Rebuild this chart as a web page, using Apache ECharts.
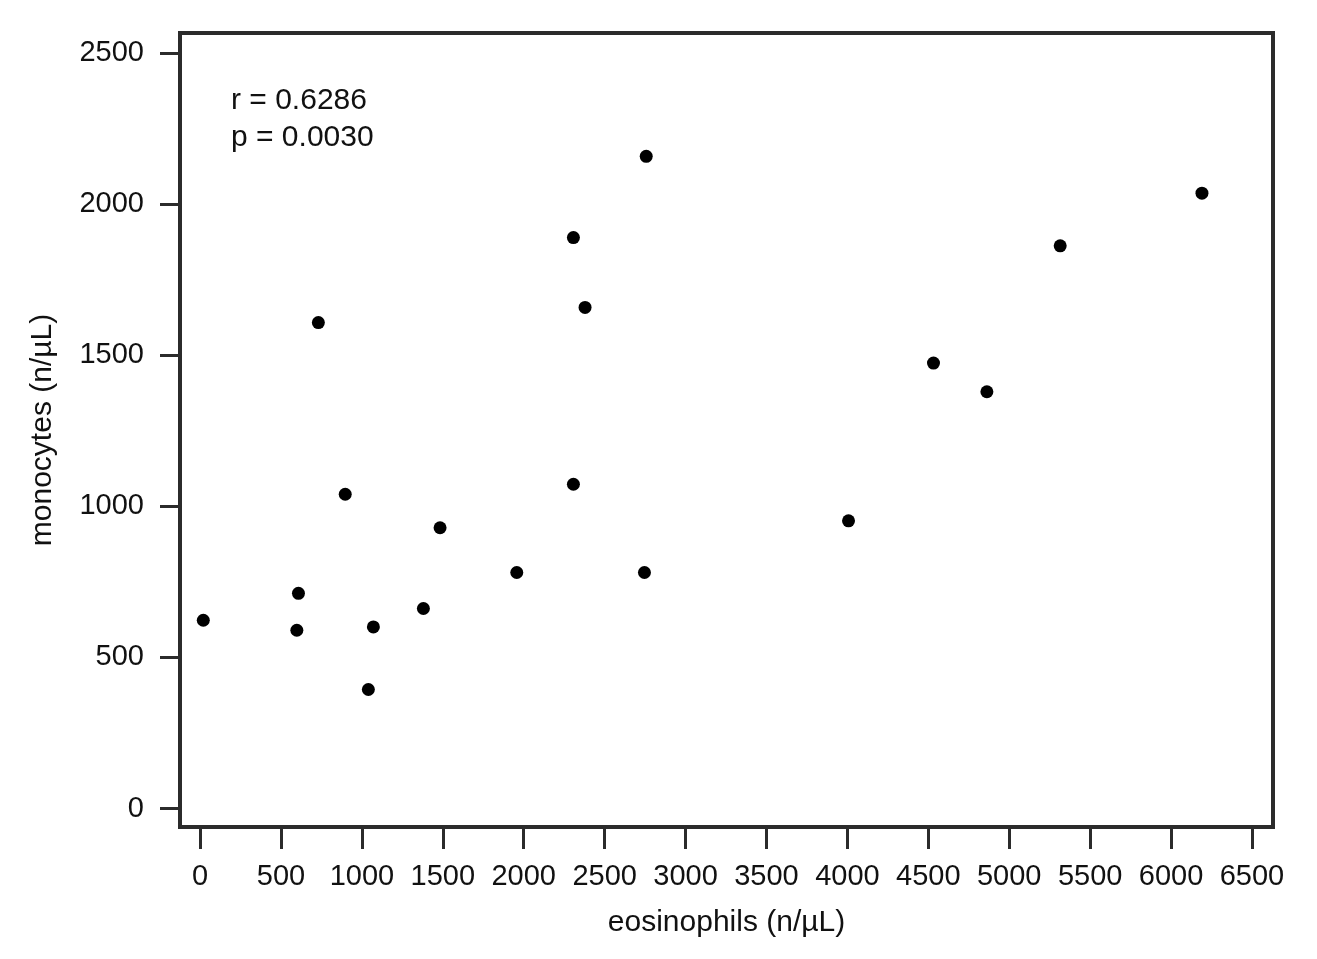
<!DOCTYPE html>
<html lang="en" style="height: 100%">
<head>
    <meta charset="utf-8">
    <script type="text/javascript" src="https://cdn.jsdelivr.net/npm/echarts@6/dist/echarts.min.js"></script>
</head>
<body style="height: 100%; margin: 0; background: #fff">
    <div id="chart" style="height: 959px; width: 1317px"></div>

    <script type="text/javascript">
        // eosinophils (n/µL) vs monocytes (n/µL)
        var eosinophils = [20, 598, 608, 731, 897, 1040, 1071, 1380, 1483, 1957,
                           2307, 2307, 2379, 2757, 2746, 4007, 4532, 4862, 5315, 6191];
        var monocytes   = [623, 590, 712, 1608, 1040, 394, 601, 662, 929, 781,
                           1889, 1073, 1658, 2158, 781, 952, 1474, 1379, 1862, 2036];

        var xTicks = [0, 500, 1000, 1500, 2000, 2500, 3000, 3500, 4000, 4500, 5000, 5500, 6000, 6500];
        var yTicks = [0, 500, 1000, 1500, 2000, 2500];

        var statsText = ['r = 0.6286', 'p = 0.0030'];

        var font = "'Liberation Sans', Arial, sans-serif";
        var ink = '#2b2b2b';
        var textInk = '#111';

        var points = eosinophils.map(function (x, i) {
            return [x, monocytes[i]];
        });

        // plain numbers, no thousands separator
        function plain(v) { return String(v); }

        var chart = echarts.init(document.getElementById('chart'));
        chart.setOption({
            animation: false,
            backgroundColor: '#fff',
            grid: {
                left: 180, right: 44, top: 33, bottom: 132,
                show: true,
                borderColor: ink,
                borderWidth: 4
            },
            xAxis: {
                type: 'value',
                min: -124,
                max: 6630,
                name: 'eosinophils (n/\u00b5L)',
                nameLocation: 'middle',
                nameGap: 81,
                nameTextStyle: { fontFamily: font, fontSize: 30, color: textInk },
                axisLine: { show: true, onZero: false, lineStyle: { color: ink, width: 4 } },
                axisTick: { show: true, inside: false, length: 22, customValues: xTicks,
                            lineStyle: { color: ink, width: 3 } },
                axisLabel: { customValues: xTicks, margin: 35, formatter: plain,
                             fontFamily: font, fontSize: 29, color: textInk },
                splitLine: { show: false }
            },
            yAxis: {
                type: 'value',
                min: -61,
                max: 2566,
                name: 'monocytes (n/\u00b5L)',
                nameLocation: 'middle',
                nameGap: 122,
                nameTextStyle: { fontFamily: font, fontSize: 30, color: textInk },
                axisLine: { show: true, onZero: false, lineStyle: { color: ink, width: 4 } },
                axisTick: { show: true, inside: false, length: 20, customValues: yTicks,
                            lineStyle: { color: ink, width: 3 } },
                axisLabel: { customValues: yTicks, margin: 36, formatter: plain,
                             fontFamily: font, fontSize: 29, color: textInk },
                splitLine: { show: false }
            },
            graphic: [{
                type: 'text',
                left: 231,
                top: 82,
                style: {
                    text: statsText.join('\n'),
                    fontFamily: font,
                    fontSize: 30,
                    lineHeight: 37,
                    fill: textInk
                }
            }],
            series: [{
                type: 'scatter',
                data: points,
                symbol: 'circle',
                symbolSize: 13,
                itemStyle: { color: '#000', opacity: 1 }
            }]
        });
    </script>
</body>
</html>
